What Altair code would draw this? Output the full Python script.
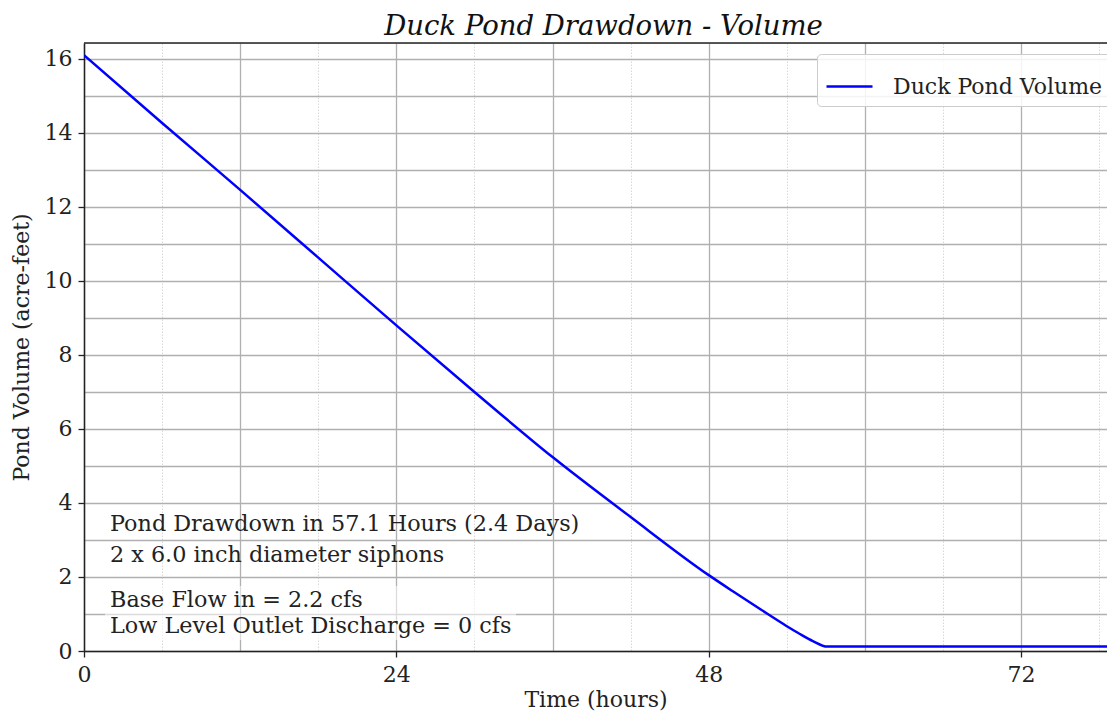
import altair as alt
import pandas as pd

# Data
hours = [0, 6, 12, 18, 24, 30, 36, 42, 48, 50, 52, 54, 55, 56, 57.1, 78.6]
volume = [16.1, 14.27, 12.46, 10.63, 8.8, 7.0, 5.24, 3.62, 2.05, 1.58, 1.12, 0.67, 0.46, 0.27, 0.12, 0.12]
series = ["Duck Pond Volume"] * len(hours)

x_grid_values = [0, 6, 12, 18, 24, 30, 36, 42, 48, 54, 60, 66, 72, 78]
y_grid_values = [v / 2 for v in range(0, 33)]

note_top = ["Pond Drawdown in 57.1 Hours (2.4 Days)", "2 x 6.0 inch diameter siphons"]
note_bottom = ["Base Flow in = 2.2 cfs", "Low Level Outlet Discharge = 0 cfs"]

df = pd.DataFrame({"hours": hours, "volume": volume, "series": series})
one = pd.DataFrame({"k": [0]})

FONT = "DejaVu Serif"
FS = 22
W, H = 1023, 608

x_axis = alt.Axis(
    values=x_grid_values,
    format="d",
    labelExpr="datum.value % 24 === 0 ? datum.label : ''",
    grid=True,
    gridColor={"condition": {"test": "datum.value % 12 === 0", "value": "#b0b0b0"}, "value": "#d4d4d4"},
    gridDash={"condition": {"test": "datum.value % 12 === 0", "value": []}, "value": [1.5, 1.5]},
    gridWidth={"condition": {"test": "datum.value % 12 === 0", "value": 1.3}, "value": 0.9},
    tickOpacity={"condition": {"test": "datum.value % 24 === 0", "value": 1}, "value": 0},
    tickSize=6, tickWidth=1.3, tickColor="#222",
    domainColor="#222", domainWidth=1.5,
    labelFont=FONT, labelFontSize=FS, labelColor="#222", labelPadding=7,
    labelFlush=False,
    title="Time (hours)", titleFont=FONT, titleFontSize=FS, titleFontWeight="normal",
    titleColor="#222", titlePadding=4,
)

y_axis = alt.Axis(
    values=y_grid_values,
    format="d",
    labelExpr="datum.value % 2 === 0 ? datum.label : ''",
    grid=True,
    gridColor={"condition": {"test": "datum.value % 1 === 0", "value": "#b0b0b0"}, "value": "#d4d4d4"},
    gridDash={"condition": {"test": "datum.value % 1 === 0", "value": []}, "value": [1.5, 1.5]},
    gridWidth={"condition": {"test": "datum.value % 1 === 0", "value": 1.3}, "value": 0.9},
    tickOpacity={"condition": {"test": "datum.value % 2 === 0", "value": 1}, "value": 0},
    tickSize=6, tickWidth=1.3, tickColor="#222",
    domainColor="#222", domainWidth=1.5,
    labelFont=FONT, labelFontSize=FS, labelColor="#222", labelPadding=6,
    labelFlush=False,
    title="Pond Volume (acre-feet)", titleFont=FONT, titleFontSize=FS, titleFontWeight="normal",
    titleColor="#222", titlePadding=11,
)

line = alt.Chart(df).mark_line(strokeWidth=2.5, clip=True, interpolate="monotone").encode(
    x=alt.X("hours:Q", scale=alt.Scale(domain=[0, 78.6], nice=False), axis=x_axis),
    y=alt.Y("volume:Q", scale=alt.Scale(domain=[0, 16.43], nice=False), axis=y_axis),
    color=alt.Color(
        "series:N",
        scale=alt.Scale(domain=["Duck Pond Volume"], range=["#0000ff"]),
        legend=alt.Legend(
            title=None, orient="none", legendX=733, legendY=11,
            symbolType="stroke", symbolSize=2116, symbolStrokeWidth=2.5,
            labelFont=FONT, labelFontSize=FS, labelColor="#222", labelOffset=19,
            labelLimit=0,
            fillColor="rgba(255,255,255,0.85)", strokeColor="#cccccc",
            cornerRadius=4, padding=8,
        ),
    ),
)

top_border = alt.Chart(one).mark_rule(color="#222", strokeWidth=1.5).encode(
    x=alt.value(0), x2=alt.value(W), y=alt.value(0)
)

box = alt.Chart(one).mark_rect(color="white", opacity=0.55).encode(
    x=alt.value(21), x2=alt.value(432), y=alt.value(543), y2=alt.value(597)
)

text_top = alt.Chart(one).mark_text(
    text=note_top, align="left", baseline="alphabetic", font=FONT, fontSize=22.3,
    color="#222", lineHeight=31,
).encode(x=alt.value(26), y=alt.value(488))

text_bottom = alt.Chart(one).mark_text(
    text=note_bottom, align="left", baseline="alphabetic", font=FONT, fontSize=22.3,
    color="#222", lineHeight=26,
).encode(x=alt.value(26), y=alt.value(564))

chart = alt.layer(box, line, top_border, text_top, text_bottom).properties(
    width=W, height=H,
    title=alt.TitleParams(
        "Duck Pond Drawdown - Volume", font=FONT, fontSize=27.5, fontStyle="italic",
        fontWeight="normal", color="#111", offset=2, anchor="middle", dx=8,
    ),
    autosize=alt.AutoSizeParams(type="none"),
    padding={"left": 76, "top": 35, "right": 0, "bottom": 60},
).configure_view(strokeWidth=0).configure(background="white")

chart.save("out.html", embed_options={"renderer": "svg", "actions": False})
